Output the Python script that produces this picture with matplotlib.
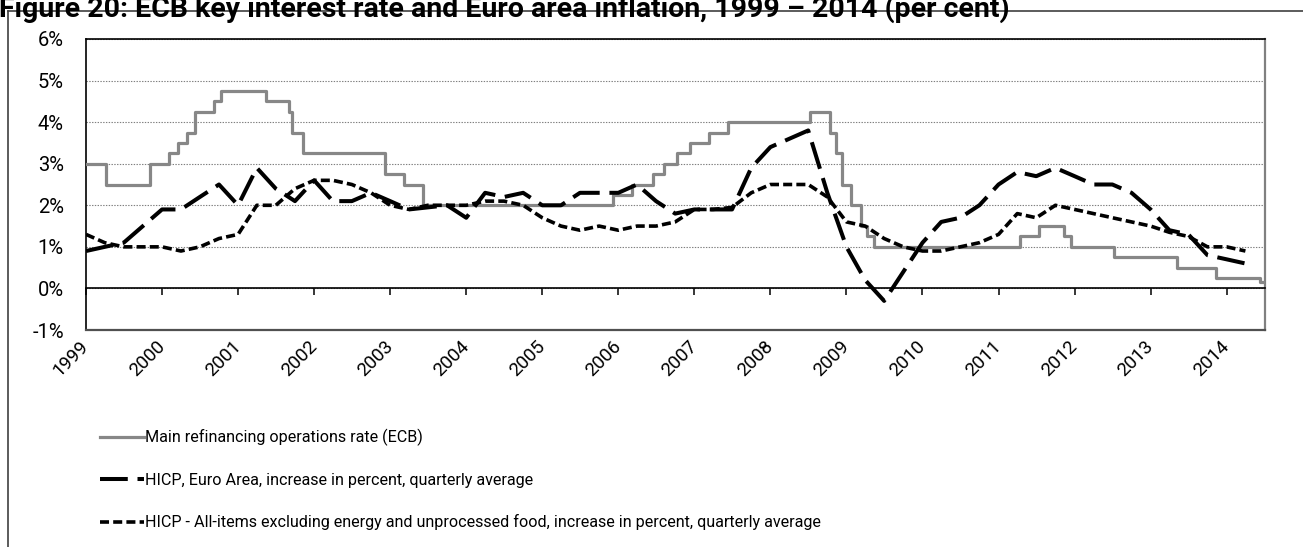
import numpy as np
import pandas as pd
import matplotlib
matplotlib.use("Agg")
import matplotlib.pyplot as plt
from matplotlib.lines import Line2D

plt.rcParams['font.family'] = ['Roboto', 'DejaVu Sans']
plt.rcParams['lines.scale_dashes'] = False

# ECB main refinancing operations rate: dates of change and new rate (%)
mro_dates = ["1999-01-01", "1999-04-09", "1999-11-05", "2000-02-04", "2000-03-17",
             "2000-04-28", "2000-06-09", "2000-09-06", "2000-10-11", "2001-05-15",
             "2001-08-31", "2001-09-18", "2001-11-09", "2002-12-06", "2003-03-07",
             "2003-06-06", "2005-12-06", "2006-03-08", "2006-06-15", "2006-08-09",
             "2006-10-11", "2006-12-13", "2007-03-14", "2007-06-13", "2008-07-09",
             "2008-10-15", "2008-11-12", "2008-12-10", "2009-01-21", "2009-03-11",
             "2009-04-08", "2009-05-13", "2011-04-13", "2011-07-13", "2011-11-09",
             "2011-12-14", "2012-07-11", "2013-05-08", "2013-11-13", "2014-06-11",
             "2014-07-04"]
mro_rate = [3.00, 2.50, 3.00, 3.25, 3.50, 3.75, 4.25, 4.50, 4.75, 4.50,
            4.25, 3.75, 3.25, 2.75, 2.50, 2.00, 2.25, 2.50, 2.75, 3.00,
            3.25, 3.50, 3.75, 4.00, 4.25, 3.75, 3.25, 2.50, 2.00, 1.50,
            1.25, 1.00, 1.25, 1.50, 1.25, 1.00, 0.75, 0.50, 0.25, 0.15,
            0.15]

# quarterly averages, 1999Q1 .. 2014Q2
first_quarter = "1999Q1"
hicp = [0.9, 1.0, 1.1, 1.5,
        1.9, 1.9, 2.2, 2.5,
        2.0, 2.9, 2.4, 2.1,
        2.6, 2.1, 2.1, 2.3,
        2.1, 1.9, 1.95, 2.0,
        1.7, 2.3, 2.2, 2.3,
        2.0, 2.0, 2.3, 2.3,
        2.3, 2.5, 2.1, 1.8,
        1.9, 1.9, 1.9, 2.9,
        3.4, 3.6, 3.8, 2.3,
        1.0, 0.2, -0.3, 0.4,
        1.1, 1.6, 1.7, 2.0,
        2.5, 2.8, 2.7, 2.9,
        2.7, 2.5, 2.5, 2.3,
        1.9, 1.4, 1.3, 0.8,
        0.7, 0.6]
hicp_core = [1.3, 1.1, 1.0, 1.0,
             1.0, 0.9, 1.0, 1.2,
             1.3, 2.0, 2.0, 2.4,
             2.6, 2.6, 2.5, 2.3,
             2.0, 1.9, 2.0, 2.0,
             2.0, 2.1, 2.1, 2.0,
             1.7, 1.5, 1.4, 1.5,
             1.4, 1.5, 1.5, 1.6,
             1.9, 1.9, 1.95, 2.3,
             2.5, 2.5, 2.5, 2.2,
             1.6, 1.5, 1.2, 1.0,
             0.9, 0.9, 1.0, 1.1,
             1.3, 1.8, 1.7, 2.0,
             1.9, 1.8, 1.7, 1.6,
             1.5, 1.35, 1.25, 1.0,
             1.0, 0.9]

years = list(range(1999, 2015))
y_ticks = list(range(-1, 7))

labels = ["Main refinancing operations rate (ECB)",
          "HICP, Euro Area, increase in percent, quarterly average",
          "HICP - All-items excluding energy and unprocessed food, increase in percent, quarterly average"]
title = "Figure 20: ECB key interest rate and Euro area inflation, 1999 \u2013 2014 (per cent)"


def to_year(dates):
    d = pd.DatetimeIndex(dates)
    return np.asarray(d.year + (d.dayofyear - 1) / np.where(d.is_leap_year, 366, 365))


mro_x = to_year(pd.to_datetime(mro_dates))
q_x = to_year(pd.period_range(first_quarter, periods=len(hicp), freq="Q").start_time)

W, H = 1303, 547
fig = plt.figure(figsize=(W / 100, H / 100), dpi=100)
ax = fig.add_axes([86 / W, 1 - 330 / H, (1265 - 86) / W, (330 - 39) / H])

# spine position first (it resets the ticks)
ax.spines["bottom"].set_position(("data", 0))
ax.spines["bottom"].set_linewidth(1.2)
ax.spines["top"].set_linewidth(1.2)
ax.spines["left"].set_linewidth(1.2)
ax.spines["right"].set_color("#808080")
ax.spines["right"].set_linewidth(1.6)

l1, = ax.step(mro_x, mro_rate, where="post", color="#878787", lw=2.3, label=labels[0], zorder=3)
l2, = ax.plot(q_x, hicp, color="black", lw=2.9, dashes=(20, 7), label=labels[1], zorder=4)
l3, = ax.plot(q_x, hicp_core, color="black", lw=2.6, dashes=(6.5, 3), label=labels[2], zorder=4)

ax.set_xlim(mro_x[0], mro_x[-1])
ax.set_ylim(-1, 6)
ax.tick_params(axis="y", length=0, pad=16)
ax.tick_params(axis="x", direction="out", length=5, width=1.1, pad=35)
ax.set_yticks(y_ticks)
ax.set_yticklabels([f"{v}%" for v in y_ticks], fontsize=14.5)
ax.grid(axis="y", color="#808080", lw=0.8, ls=(0, (1, 1)), zorder=0)

ax.set_xticks(years)
ax.set_xticklabels([str(y) for y in years], fontsize=13.5, rotation=45,
                   ha="right", va="center", rotation_mode="anchor")

ax.axhline(-1, color="#505050", lw=1.6, clip_on=False, zorder=5)

fig.legend(handles=[l1, l2, l3], loc="upper left",
           bbox_to_anchor=(100 / W, 1 - 429 / H), bbox_transform=fig.transFigure,
           frameon=False, fontsize=11.6, handlelength=2.7, handletextpad=0.12,
           labelspacing=1.65, borderpad=0, borderaxespad=0)

fig.text(-0.001, 1 - 17 / H, title, fontsize=20.5, fontweight="bold", va="baseline")
fig.add_artist(Line2D([8 / W, 1], [1 - 11 / H, 1 - 11 / H], color="#404040", lw=1.2))
fig.add_artist(Line2D([8 / W, 8 / W], [0, 1 - 11 / H], color="#404040", lw=1.2))

fig.savefig("out.png", dpi=100)
